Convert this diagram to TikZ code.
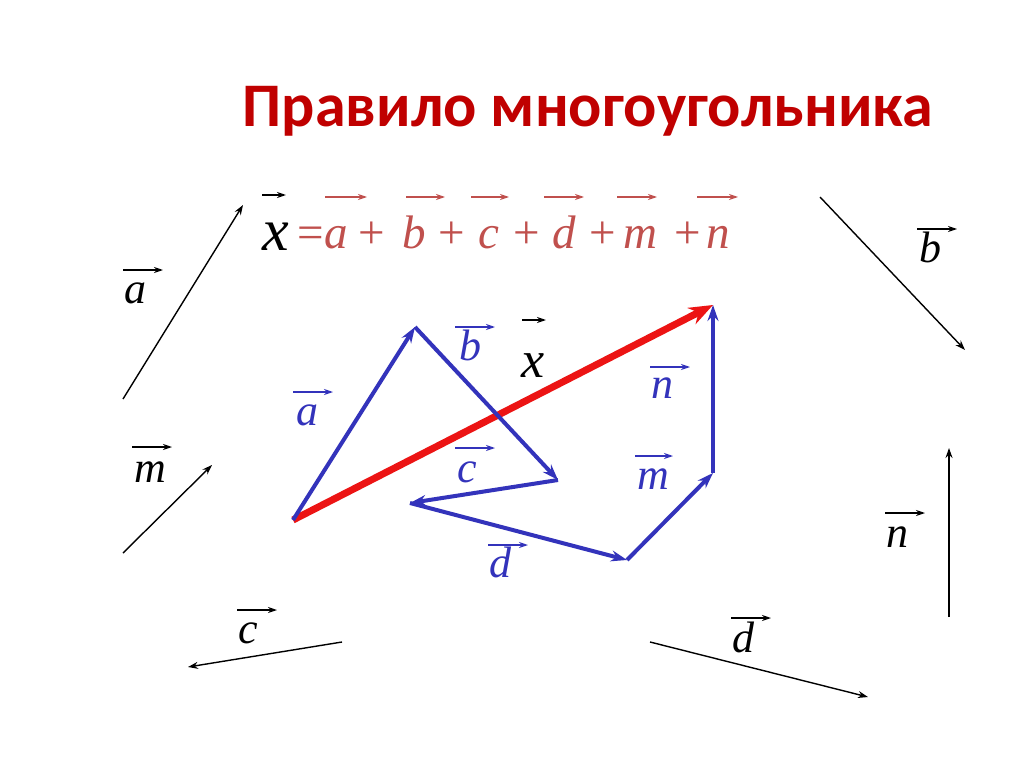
\documentclass[tikz,border=0pt]{standalone}
\usepackage{fontspec}
\setmainfont{Liberation Serif}[ItalicFont={Liberation Serif Italic}]
\newfontfamily\titlefont{Carlito}[BoldFont={Carlito Bold}]
\usetikzlibrary{arrows.meta}
\definecolor{titlered}{RGB}{192,0,0}
\definecolor{frmred}{RGB}{192,80,77}
\definecolor{vblue}{RGB}{51,51,187}
\definecolor{xred}{RGB}{236,20,20}
\begin{document}
\begin{tikzpicture}[x=1pt,y=-1pt,
  lbl/.style={inner sep=0pt, anchor=base, font=\fontsize{44}{48}\selectfont\itshape},
  blbl/.style={lbl, text=vblue},
  frm/.style={inner sep=0pt, anchor=base, font=\fontsize{47}{50}\selectfont\itshape, text=frmred},
  frmop/.style={inner sep=0pt, anchor=base, font=\fontsize{47}{50}\selectfont, text=frmred},
  thinvec/.style={line width=1.4pt, -{Stealth[length=10pt,width=7pt]}},
  over/.style={line width=1.3pt, -{Stealth[length=9pt,width=6pt]}},
  polyvec/.style={vblue, line width=4pt, -{Stealth[length=16pt,width=11pt]}},
  resvec/.style={xred, line width=7pt, -{Stealth[length=24pt,width=18pt]}}
]
\useasboundingbox (0,0) rectangle (1024,767);
\fill[white] (0,0) rectangle (1024,767);

% title
\node[inner sep=0pt, anchor=base, font=\titlefont\bfseries\fontsize{62}{66}\selectfont, text=titlered] (title) at (588,127) {Правило многоугольника};

% formula
\node[inner sep=0pt, anchor=base, font=\fontsize{60}{64}\selectfont\itshape] (fx) at (276,250) {x};
\node[frmop] (feq) at (311,248) {=};
\node[frm] (fa) at (336,248) {a};
\node[frmop] (fp1) at (372,248) {+};
\node[frm] (fb) at (414,248) {b};
\node[frmop] (fp2) at (452,248) {+};
\node[frm] (fc) at (489,248) {c};
\node[frmop] (fp3) at (527,248) {+};
\node[frm] (fd) at (564,248) {d};
\node[frmop] (fp4) at (603,248) {+};
\node[frm] (fm) at (640,248) {m};
\node[frmop] (fp5) at (688,248) {+};
\node[frm] (fn) at (718,248) {n};
\draw[over, line width=1.6pt] (262,195) -- (286,195);
\draw[over, frmred] (325,197) -- (367,197);
\draw[over, frmred] (406,197) -- (445,197);
\draw[over, frmred] (471,197) -- (509,197);
\draw[over, frmred] (544,197) -- (584,197);
\draw[over, frmred] (617,197) -- (657,197);
\draw[over, frmred] (697,197) -- (738,197);

% free vectors
\coordinate (a0) at (123,399); \coordinate (a1) at (243,205);
\coordinate (b0) at (820,197); \coordinate (b1) at (965,350);
\coordinate (m0) at (123,553); \coordinate (m1) at (212,465);
\coordinate (c0) at (342,642); \coordinate (c1) at (188,667);
\coordinate (d0) at (650,642); \coordinate (d1) at (868,697);
\coordinate (n0) at (949,617); \coordinate (n1) at (949,448);
\draw[thinvec] (a0) -- (a1);
\draw[thinvec] (b0) -- (b1);
\draw[thinvec] (m0) -- (m1);
\draw[thinvec] (c0) -- (c1);
\draw[thinvec] (d0) -- (d1);
\draw[thinvec] (n0) -- (n1);

\node[lbl] (la) at (135,303) {a};  \draw[over] (123,270) -- (163,270);
\node[lbl] (lb) at (930,262) {b};  \draw[over] (917,229) -- (957,229);
\node[lbl] (lm) at (150,482) {m};  \draw[over] (132,447) -- (172,447);
\node[lbl] (lc) at (248,643) {c};  \draw[over] (237,610) -- (277,610);
\node[lbl] (ld) at (743,652) {d};  \draw[over] (731,618) -- (771,618);
\node[lbl] (ln) at (897,547) {n};  \draw[over] (885,513) -- (925,513);

% polygon
\coordinate (A) at (293,520);
\coordinate (B) at (415,327);
\coordinate (C) at (558,480);
\coordinate (D) at (410,503);
\coordinate (E) at (627,560);
\coordinate (F) at (713,473);
\coordinate (G) at (713,305);
\draw[resvec] (A) -- (G);
\draw[polyvec] (A) -- (B);
\draw[polyvec] (B) -- (C);
\draw[polyvec] (C) -- (D);
\draw[polyvec] (D) -- (E);
\draw[polyvec] (E) -- (F);
\draw[polyvec] (F) -- (G);

\node[blbl] (pa) at (307,425) {a};  \draw[over, vblue] (293,392) -- (333,392);
\node[blbl] (pb) at (470,360) {b};  \draw[over, vblue] (455,327) -- (495,327);
\node[blbl] (pc) at (467,482) {c};  \draw[over, vblue] (455,448) -- (495,448);
\node[blbl] (pd) at (500,577) {d};  \draw[over, vblue] (488,545) -- (528,545);
\node[blbl] (pm) at (653,489) {m};  \draw[over, vblue] (635,456) -- (673,456);
\node[blbl] (pn) at (662,398) {n};  \draw[over, vblue] (650,367) -- (690,367);
\node[inner sep=0pt, anchor=base, font=\fontsize{52}{56}\selectfont\itshape] (px) at (533,377) {x};
\draw[over, line width=1.6pt] (522,320) -- (546,320);
\end{tikzpicture}
\end{document}
